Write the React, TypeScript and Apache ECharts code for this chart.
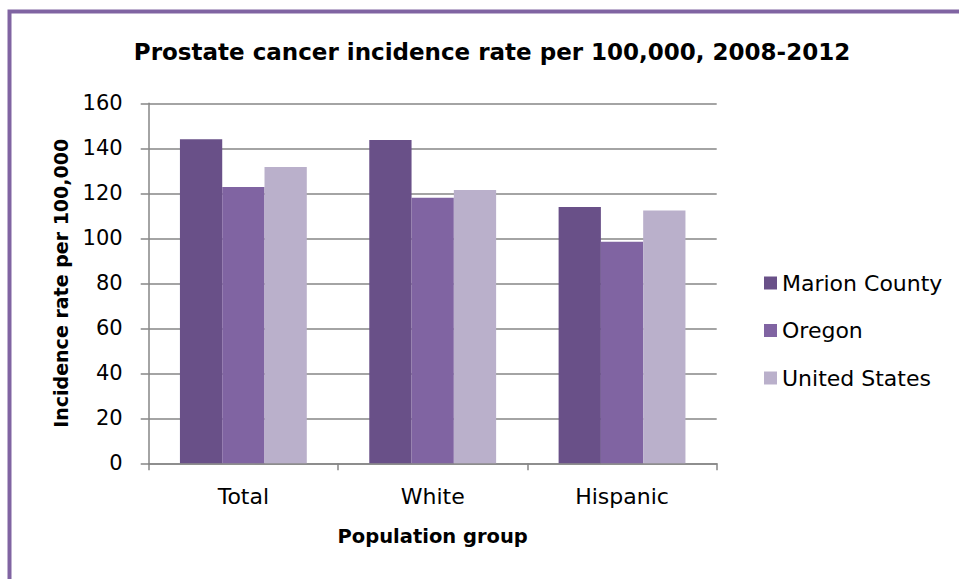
import React, { useEffect, useRef } from "react";
import * as echarts from "echarts";

const categories = ["Total", "White", "Hispanic"];
const seriesNames = ["Marion County", "Oregon", "United States"];
const marionCounty = [144.0, 143.7, 113.9];
const oregon = [122.8, 118.0, 98.5];
const unitedStates = [131.7, 121.5, 112.3];
const colors = ["#695088", "#8064A2", "#BAB0CB"];

const FONT = "DejaVu Sans";

export default function App() {
  const ref = useRef<HTMLDivElement>(null);
  useEffect(() => {
    document.body.style.margin = "0";
    const chart = echarts.init(ref.current!, undefined, { renderer: "svg" });
    const values = [marionCounty, oregon, unitedStates];
    chart.setOption({
      animation: false,
      backgroundColor: "#fff",
      title: {
        text: "Prostate cancer incidence rate per 100,000, 2008-2012",
        left: 487,
        textAlign: "center",
        top: 35,
        textStyle: { fontFamily: FONT, fontWeight: "bold", fontSize: 23, color: "#000" },
      },
      graphic: [
        {
          type: "rect",
          shape: { x: 9.5, y: 11.5, width: 1000, height: 1000 },
          style: { fill: "none", stroke: "#8064A2", lineWidth: 4 },
          silent: true,
        },
      ],
      legend: {
        orient: "vertical",
        left: 759,
        top: 267,
        itemWidth: 13,
        itemHeight: 13,
        itemGap: 25.5,
        icon: "rect",
        textStyle: { fontFamily: FONT, fontSize: 22, color: "#000" },
        data: seriesNames,
      },
      grid: { left: 148.7, right: 242.3, top: 103.3, bottom: 115.7, containLabel: false },
      xAxis: {
        type: "category",
        data: categories,
        name: "Population group",
        nameLocation: "middle",
        nameGap: 63,
        nameTextStyle: { fontFamily: FONT, fontWeight: "bold", fontSize: 19.5, color: "#000" },
        axisLine: { lineStyle: { color: "#868686", width: 1.5 } },
        axisTick: { show: true, length: 7, lineStyle: { color: "#868686", width: 1.5 } },
        axisLabel: { fontFamily: FONT, fontSize: 22, color: "#000", margin: 22 },
      },
      yAxis: {
        type: "value",
        min: 0,
        max: 160,
        interval: 20,
        name: "Incidence rate per 100,000",
        nameLocation: "middle",
        nameGap: 78,
        nameTextStyle: { fontFamily: FONT, fontWeight: "bold", fontSize: 19, color: "#000" },
        axisLine: { show: true, lineStyle: { color: "#868686", width: 1.5 } },
        axisTick: { show: true, length: 8, lineStyle: { color: "#868686", width: 1.5 } },
        axisLabel: { fontFamily: FONT, fontSize: 21, color: "#000", margin: 26 },
        splitLine: { lineStyle: { color: "#868686", width: 1.5 } },
      },
      series: seriesNames.map((name, i) => ({
        name,
        type: "bar",
        data: values[i],
        barGap: "0%",
        barCategoryGap: "33%",
        itemStyle: { color: colors[i] },
      })),
    });
    return () => chart.dispose();
  }, []);
  return (
    <div
      ref={ref}
      style={{ position: "absolute", left: 0, top: 0, width: 959, height: 579 }}
    />
  );
}
